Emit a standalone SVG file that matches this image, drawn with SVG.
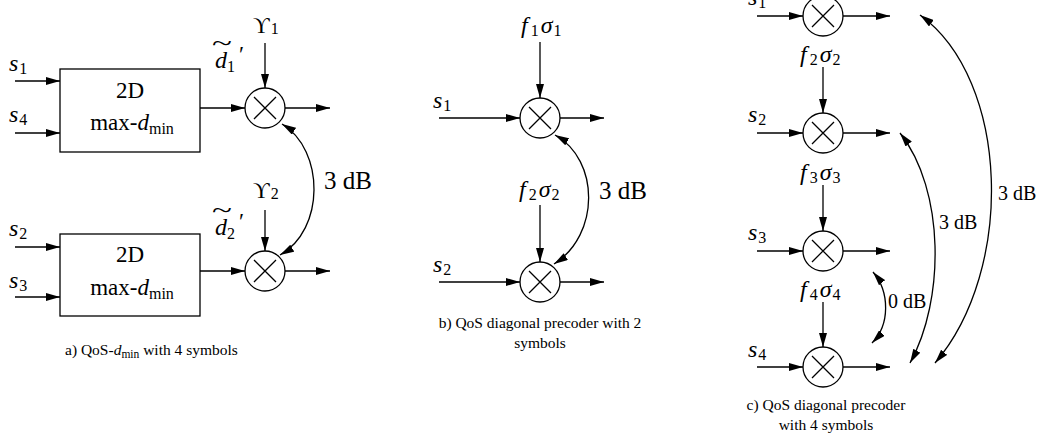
<svg xmlns="http://www.w3.org/2000/svg" width="1042" height="442" viewBox="0 0 1042 442" font-family="'Liberation Serif', 'Times New Roman', 'DejaVu Serif', serif">
<style>
text{font-family:'Liberation Serif','Times New Roman','DejaVu Serif',serif;fill:#000}
.m{font-style:italic;font-size:24px}
.r{font-size:23px}
.sub{font-style:normal;font-size:16px}
.lbl{font-size:25px}
.lc{font-size:20px}
.cap{font-size:15.5px}
.ln{stroke:#000;stroke-width:1.3;fill:none}
.ar{stroke:#000;stroke-width:1.3;fill:none;marker-end:url(#ah)}
.ar2{stroke:#000;stroke-width:1.3;fill:none;marker-end:url(#ah);marker-start:url(#ah)}
.mul{stroke:#000;stroke-width:1.3;fill:#fff}
</style>
<defs>
<marker id="ah" viewBox="0 0 14 8" refX="14" refY="4" markerWidth="14" markerHeight="8" markerUnits="userSpaceOnUse" orient="auto-start-reverse"><path d="M0,0 L14,4 L0,8 z" fill="#000"/></marker>
<g id="x"><circle cx="0" cy="0" r="20" class="mul"/><path d="M-11,-11 L11,11 M11,-11 L-11,11" class="ln"/></g>
</defs>

<!-- Panel a -->
<g id="a-box1"><rect x="60" y="69" width="140" height="83" class="ln"/>
<text x="130" y="98" class="r" text-anchor="middle">2D</text>
<text x="132" y="130" class="r" text-anchor="middle">max-<tspan font-style="italic">d</tspan><tspan class="sub" dy="4">min</tspan></text></g>
<g id="a-box2"><rect x="60" y="234" width="140" height="82" class="ln"/>
<text x="130" y="262" class="r" text-anchor="middle">2D</text>
<text x="132" y="295" class="r" text-anchor="middle">max-<tspan font-style="italic">d</tspan><tspan class="sub" dy="4">min</tspan></text></g>
<g id="a-mul1"><use href="#x" x="265" y="108"/></g>
<g id="a-mul2"><use href="#x" x="265" y="271"/></g>
<g id="a-labels">
<text x="9" y="71" class="m">s<tspan class="sub" dy="3" dx="1">1</tspan></text>
<text x="9" y="122" class="m">s<tspan class="sub" dy="3" dx="1">4</tspan></text>
<text x="9" y="236" class="m">s<tspan class="sub" dy="3" dx="1">2</tspan></text>
<text x="9" y="288" class="m">s<tspan class="sub" dy="3" dx="1">3</tspan></text>
<text x="253" y="33" class="r">ϒ<tspan class="sub" dy="1" dx="1">1</tspan></text>
<text x="253" y="198" class="r">ϒ<tspan class="sub" dy="1" dx="1">2</tspan></text>
<text x="215" y="68" class="m">d<tspan class="sub" dy="4">1</tspan></text>
<text x="0" y="0" class="r" transform="translate(212,51) scale(1.6,1)">~</text>
<text x="239" y="62" class="r">′</text>
<text x="215" y="235" class="m">d<tspan class="sub" dy="4">2</tspan></text>
<text x="0" y="0" class="r" transform="translate(212,218) scale(1.6,1)">~</text>
<text x="239" y="229" class="r">′</text>
<text x="324" y="189" class="lbl">3 dB</text>
<text x="65" y="355" class="cap">a) QoS-<tspan font-style="italic">d</tspan><tspan font-size="11.5" dy="3">min</tspan><tspan dy="-3"> with 4 symbols</tspan></text>
</g>

<!-- Panel b -->
<g id="b-mul1"><use href="#x" x="540" y="118"/></g>
<g id="b-mul2"><use href="#x" x="540" y="282"/></g>
<g id="b-labels">
<text x="521" y="33" class="m">f<tspan class="sub" dy="3" dx="3">1</tspan><tspan dy="-3" dx="2">σ</tspan><tspan class="sub" dy="3" dx="1">1</tspan></text>
<text x="519" y="197" class="m">f<tspan class="sub" dy="3" dx="3">2</tspan><tspan dy="-3" dx="2">σ</tspan><tspan class="sub" dy="3" dx="1">2</tspan></text>
<text x="433" y="108" class="m">s<tspan class="sub" dy="3" dx="1">1</tspan></text>
<text x="433" y="272" class="m">s<tspan class="sub" dy="3" dx="1">2</tspan></text>
<text x="599" y="199" class="lbl">3 dB</text>
<text x="540" y="328" class="cap" text-anchor="middle">b) QoS diagonal precoder with 2</text>
<text x="540" y="348" class="cap" text-anchor="middle">symbols</text>
</g>

<!-- Panel c -->
<g id="c-mul1"><use href="#x" x="823" y="16"/></g>
<g id="c-mul2"><use href="#x" x="823" y="133"/></g>
<g id="c-mul3"><use href="#x" x="823" y="251"/></g>
<g id="c-mul4"><use href="#x" x="823" y="367"/></g>
<g id="c-labels">
<text x="748" y="5" class="m">s<tspan class="sub" dy="3" dx="1">1</tspan></text>
<text x="748" y="122" class="m">s<tspan class="sub" dy="3" dx="1">2</tspan></text>
<text x="748" y="240" class="m">s<tspan class="sub" dy="3" dx="1">3</tspan></text>
<text x="748" y="357" class="m">s<tspan class="sub" dy="3" dx="1">4</tspan></text>
<text x="800" y="62" class="m">f<tspan class="sub" dy="3" dx="3">2</tspan><tspan dy="-3" dx="2">σ</tspan><tspan class="sub" dy="3" dx="1">2</tspan></text>
<text x="800" y="180" class="m">f<tspan class="sub" dy="3" dx="3">3</tspan><tspan dy="-3" dx="2">σ</tspan><tspan class="sub" dy="3" dx="1">3</tspan></text>
<text x="800" y="297" class="m">f<tspan class="sub" dy="3" dx="3">4</tspan><tspan dy="-3" dx="2">σ</tspan><tspan class="sub" dy="3" dx="1">4</tspan></text>
<text x="888" y="308" class="lc">0 dB</text>
<text x="939" y="229" class="lc">3 dB</text>
<text x="998" y="200" class="lc">3 dB</text>
<text x="826" y="410" class="cap" text-anchor="middle">c) QoS diagonal precoder</text>
<text x="826" y="430" class="cap" text-anchor="middle">with 4 symbols</text>
</g>

<g id="connectors">
<path d="M15,81 H60" class="ar"/>
<path d="M15,133 H60" class="ar"/>
<path d="M200,108 H245" class="ar"/>
<path d="M265,43 V88" class="ar"/>
<path d="M285,108 H330" class="ar"/>
<path d="M15,247 H60" class="ar"/>
<path d="M15,297 H60" class="ar"/>
<path d="M200,271 H245" class="ar"/>
<path d="M265,210 V251" class="ar"/>
<path d="M285,271 H330" class="ar"/>
<path d="M282,124 C325,150 325,230 280,255" class="ar2"/>
<path d="M540,42 V98" class="ar"/>
<path d="M439,118 H520" class="ar"/>
<path d="M560,118 H604" class="ar"/>
<path d="M540,205 V262" class="ar"/>
<path d="M439,282 H520" class="ar"/>
<path d="M560,282 H604" class="ar"/>
<path d="M555,135 C600,160 600,235 554,264" class="ar2"/>
<path d="M757,16 H803" class="ar"/>
<path d="M843,16 H890" class="ar"/>
<path d="M823,67 V113" class="ar"/>
<path d="M757,133 H803" class="ar"/>
<path d="M843,133 H890" class="ar"/>
<path d="M823,185 V231" class="ar"/>
<path d="M757,251 H803" class="ar"/>
<path d="M843,251 H890" class="ar"/>
<path d="M823,302 V347" class="ar"/>
<path d="M757,367 H803" class="ar"/>
<path d="M843,367 H890" class="ar"/>
<path d="M873,272 C890,292 890,325 872,343" class="ar2"/>
<path d="M900,133 C945,190 945,300 910,363" class="ar2"/>
<path d="M920,15 C1010,80 1015,270 935,363" class="ar2"/>
</g>
</svg>
